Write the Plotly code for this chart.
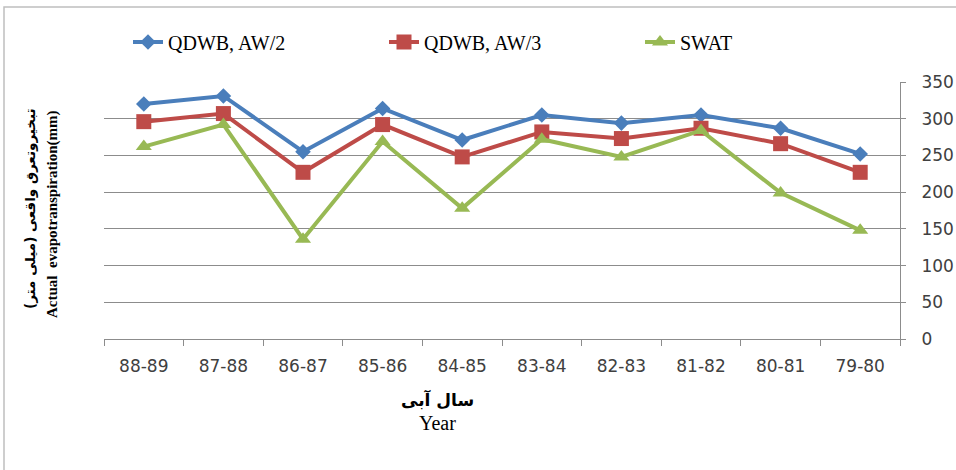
import plotly.graph_objects as go

years = ["88-89", "87-88", "86-87", "85-86", "84-85", "83-84", "82-83", "81-82", "80-81", "79-80"]
qdwb_aw2 = [320, 331, 255, 314, 271, 305, 294, 305, 287, 252]
qdwb_aw3 = [296, 307, 227, 292, 248, 282, 273, 287, 266, 227]
swat = [262, 292, 136, 269, 178, 272, 248, 284, 199, 148]

y_ticks = [0, 50, 100, 150, 200, 250, 300, 350]

series = [
    ("QDWB, AW/2", qdwb_aw2, "#4A7EBB", "diamond", 12),
    ("QDWB, AW/3", qdwb_aw3, "#BE4B48", "square", 15),
    ("SWAT", swat, "#98B954", "triangle-up", 14),
]

fig = go.Figure()
for name, vals, col, sym, sz in series:
    fig.add_trace(go.Scatter(
        x=years, y=vals, name=name, mode="lines+markers",
        line=dict(color=col, width=4),
        marker=dict(symbol=sym, size=sz, color=col),
    ))

W, H = 956, 470
L, R, T, B = 104, 56, 82, 131
pw, ph = W - L - R, H - T - B

def px(x):
    return (x - L) / pw

def py(y):
    return (H - B - y) / ph

fig.update_layout(
    width=W, height=H,
    margin=dict(l=L, r=R, t=T, b=B, pad=0, autoexpand=False),
    paper_bgcolor="white", plot_bgcolor="white",
    showlegend=True,
    legend=dict(
        orientation="h", x=px(128), y=py(42), xanchor="left", yanchor="middle",
        entrywidth=211, entrywidthmode="pixels",
        font=dict(family="Liberation Serif", size=20, color="#000000"),
        bgcolor="rgba(0,0,0,0)", tracegroupgap=0,
    ),
    xaxis=dict(
        type="category", categoryorder="array", categoryarray=years,
        range=[-0.5, len(years) - 0.5],
        showline=True, linecolor="#8C8C8C", linewidth=1,
        ticks="outside", ticklen=6, tickcolor="#8C8C8C", tickson="boundaries",
        showgrid=False, zeroline=False, automargin=False,
        tickfont=dict(family="DejaVu Sans", size=17, color="#404040"),
        ticklabelstandoff=12,
    ),
    yaxis=dict(
        side="right", range=[0, 350], tickvals=y_ticks,
        showline=True, linecolor="#8C8C8C", linewidth=1,
        ticks="outside", ticklen=5, tickcolor="#8C8C8C",
        showgrid=True, gridcolor="#8C8C8C", gridwidth=1,
        zeroline=False, automargin=False,
        tickfont=dict(family="DejaVu Sans", size=17, color="#404040"),
        ticklabelstandoff=12,
    ),
    font=dict(family="Liberation Serif", color="#000000"),
)

annotations = [
    dict(text="<b>تبخیروتعرق واقعی (میلی متر)</b>", x=px(30), y=py(209), textangle=-90,
         font=dict(family="DejaVu Sans", size=13.5, color="#000000")),
    dict(text="<b>Actual  evapotranspiration(mm)</b>", x=px(52), y=py(214), textangle=-90,
         font=dict(family="Liberation Serif", size=15, color="#000000")),
    dict(text="<b>سال آبی</b>", x=px(437), y=py(399),
         font=dict(family="DejaVu Sans", size=17, color="#000000")),
    dict(text="Year", x=px(437), y=py(423),
         font=dict(family="Liberation Serif", size=20, color="#000000")),
]
for a in annotations:
    fig.add_annotation(xref="paper", yref="paper", showarrow=False,
                       xanchor="center", yanchor="middle", **a)

# outer chart frame
fig.add_shape(type="rect", xref="paper", yref="paper",
              x0=px(4), x1=px(962), y0=py(476), y1=py(7),
              line=dict(color="#BFBFBF", width=1.5), layer="below")

fig.write_html(
    "out.html",
    config={"displayModeBar": False},
    post_script="document.body.style.margin='0';document.body.style.overflow='hidden';",
)
